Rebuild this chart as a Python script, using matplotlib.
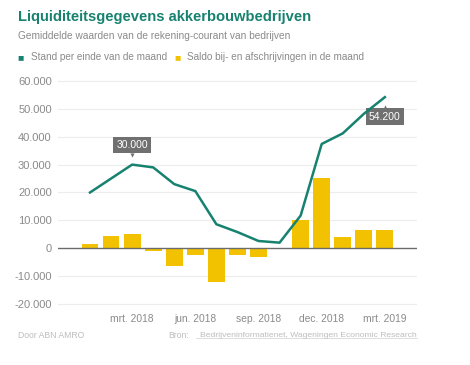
import numpy as np
import matplotlib.pyplot as plt
from matplotlib.transforms import offset_copy

plt.rcParams['font.family'] = ['Liberation Sans', 'DejaVu Sans']

months = ['jan. 2018', 'feb. 2018', 'mrt. 2018', 'apr. 2018', 'mei 2018', 'jun. 2018',
          'jul. 2018', 'aug. 2018', 'sep. 2018', 'okt. 2018', 'nov. 2018', 'dec. 2018',
          'jan. 2019', 'feb. 2019', 'mrt. 2019']
stand = [20000, 25000, 30000, 29000, 23000, 20500, 8600, 5800, 2600, 2000,
         11700, 37400, 41200, 48200, 54200]
saldo = [1500, 4500, 5100, -1000, -6200, -2300, -12000, -2500, -3300, -400,
         10300, 25200, 4000, 6400, 6400]
tick_months = ['mrt. 2018', 'jun. 2018', 'sep. 2018', 'dec. 2018', 'mrt. 2019']
yticks = [-20000, -10000, 0, 10000, 20000, 30000, 40000, 50000, 60000]

teal = '#17826f'
yellow = '#f2c100'
grey = '#8a8a8a'
boxgrey = '#707070'

x = np.arange(len(months))

fig = plt.figure(figsize=(4.7, 3.65), dpi=100)
ax = fig.add_axes([0.1234, 0.1595, 0.7636, 0.6263])

for yt in yticks:
    if yt != 0:
        ax.axhline(yt, color='#ececec', lw=0.8, zorder=0)
ax.bar(x, saldo, width=0.8, color=yellow, zorder=2)
ax.axhline(0, color='#6b6b6b', lw=1.0, zorder=3)
ax.plot(x, stand, color=teal, lw=1.8, zorder=6, solid_joinstyle='round')

ax.set_xlim(-1.52, len(months) + 0.52)
ax.set_ylim(-21000, 61000)
ax.set_yticks(yticks)
ax.set_yticklabels([f'{v:,}'.replace(',', '.') for v in yticks])
ax.set_xticks([months.index(m) for m in tick_months])
ax.set_xticklabels(tick_months)
ax.tick_params(length=0, colors=grey)
ax.tick_params(axis='y', pad=4.5, labelsize=8)
ax.tick_params(axis='x', pad=5, labelsize=7.4)
for s in ax.spines.values():
    s.set_visible(False)

# value boxes with small pointers
def value_box(i, dy):
    label = f'{stand[i]:,}'.replace(',', '.')
    ax.annotate(label, (x[i], stand[i]), xytext=(0, dy), textcoords='offset points',
                ha='center', va='center', fontsize=7.5, color='white',
                bbox=dict(boxstyle='square,pad=0.3', fc=boxgrey, ec='none'), zorder=5)
    sign = 1 if dy > 0 else -1
    tr = offset_copy(ax.transData, fig=fig, x=0, y=dy - sign * 7.2, units='points')
    ax.plot([x[i]], [stand[i]], marker='v' if dy > 0 else '^', ms=3, color=boxgrey,
            mec='none', transform=tr, zorder=5)

value_box(months.index('mrt. 2018'), 14)
value_box(len(months) - 1, -14)

fig.text(0.038, 0.953, 'Liquiditeitsgegevens akkerbouwbedrijven', fontsize=10.6,
         fontweight='bold', color=teal, va='center')
fig.text(0.038, 0.902, 'Gemiddelde waarden van de rekening-courant van bedrijven',
         fontsize=7.3, color=grey, va='center')
fig.text(0.036, 0.843, '\u25a0', fontsize=7.5, color=teal, va='center')
fig.text(0.066, 0.843, 'Stand per einde van de maand', fontsize=7.2, color=grey, va='center')
fig.text(0.372, 0.843, '\u25a0', fontsize=7.5, color=yellow, va='center')
fig.text(0.398, 0.843, 'Saldo bij- en afschrijvingen in de maand', fontsize=7.2,
         color=grey, va='center')

fig.text(0.038, 0.082, 'Door ABN AMRO', fontsize=6.2, color='#bdbdbd', va='center')
fig.text(0.887, 0.082, 'Bedrijveninformatienet, Wageningen Economic Research',
         fontsize=6.1, color='#bdbdbd', va='center', ha='right')
fig.text(0.357, 0.082, 'Bron:', fontsize=6.2, color='#bdbdbd', va='center', ha='left')
fig.add_artist(plt.Line2D([0.416, 0.887], [0.073, 0.073], color='#d0d0d0', lw=0.5))

fig.savefig('out.png', dpi=100)
